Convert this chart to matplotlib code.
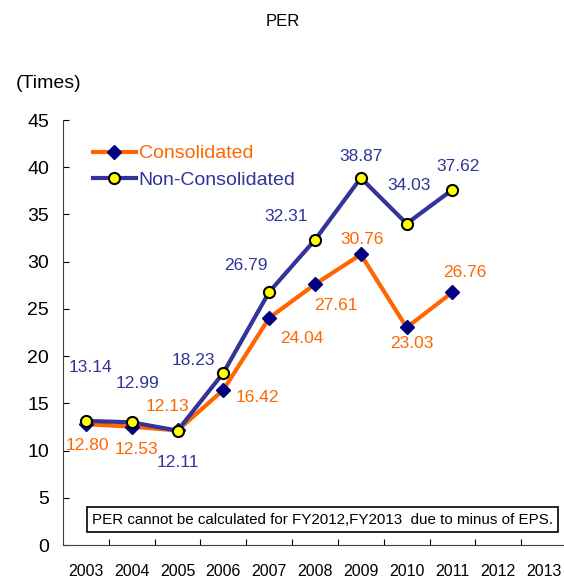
import matplotlib.pyplot as plt

plt.rcParams["font.family"] = ["Liberation Sans", "DejaVu Sans"]

years = ["2003", "2004", "2005", "2006", "2007", "2008", "2009", "2010", "2011", "2012", "2013"]
consolidated = [12.80, 12.53, 12.13, 16.42, 24.04, 27.61, 30.76, 23.03, 26.76]
non_consolidated = [13.14, 12.99, 12.11, 18.23, 26.79, 32.31, 38.87, 34.03, 37.62]

# label offsets in pixels (dx, dy), relative to each point
cons_offsets = [(1, -21), (5, -23), (-10, 24), (34, -8), (33, -21), (21, -21), (1, 15), (5, -16), (12, 20)]
non_offsets = [(5, 53), (6, 39), (0, -32), (-30, 12), (-23, 26), (-29, 23), (0, 21), (2, 38), (6, 23)]

orange = "#FF6600"
blue = "#333399"

fig = plt.figure(figsize=(5.64, 5.79), dpi=100)
ax = fig.add_axes([63 / 564, 34 / 579, 504 / 564, 425 / 579])

x = list(range(len(consolidated)))
ax.plot(x, consolidated, color=orange, lw=3, marker="D", ms=7.5,
        mfc="#000080", mec="#000080", label="Consolidated", zorder=3)
ax.plot(x, non_consolidated, color=blue, lw=3, marker="o", ms=8,
        mfc="#FFFF00", mec="black", mew=1.5, label="Non-Consolidated", zorder=4)

for i, v in enumerate(consolidated):
    dx, dy = cons_offsets[i]
    ax.annotate(f"{v:.2f}", (i, v), xytext=(dx, dy), textcoords="offset pixels",
                ha="center", va="center", color=orange, fontsize=12.5)
for i, v in enumerate(non_consolidated):
    dx, dy = non_offsets[i]
    ax.annotate(f"{v:.2f}", (i, v), xytext=(dx, dy), textcoords="offset pixels",
                ha="center", va="center", color=blue, fontsize=12.5)

ax.set_xlim(-0.5, len(years) - 0.5)
ax.set_ylim(0, 45)
ax.set_yticks(range(0, 46, 5))
ax.tick_params(axis="y", direction="in", length=4, labelsize=14, pad=10)
ax.set_xticks([i + 0.5 for i in range(len(years) - 1)])
ax.set_xticklabels([])
ax.tick_params(axis="x", direction="in", length=4)
for i, yr in enumerate(years):
    ax.text(i, -0.045, yr, transform=ax.get_xaxis_transform(),
            ha="center", va="top", fontsize=11.5)

for s in ["top", "right"]:
    ax.spines[s].set_visible(False)
for s in ["left", "bottom"]:
    ax.spines[s].set_color("#404040")

leg = ax.legend(loc="upper left", bbox_to_anchor=(0.025, 0.983), frameon=False,
                fontsize=14, handlelength=2.2, handletextpad=0.15, labelspacing=0.45)
for t, c in zip(leg.get_texts(), [orange, blue]):
    t.set_color(c)

ax.text(0.972, 0.06, "PER cannot be calculated for FY2012,FY2013  due to minus of EPS.",
        transform=ax.transAxes, ha="right", va="center", fontsize=10.9,
        bbox=dict(boxstyle="square,pad=0.35", fc="white", ec="black", lw=1.2))

fig.text(283 / 564, 1 - 21 / 579, "PER", ha="center", va="center", fontsize=12)
fig.text(49 / 564, 1 - 83 / 579, "(Times)", ha="center", va="center", fontsize=14)

fig.savefig("out.png", dpi=100)
